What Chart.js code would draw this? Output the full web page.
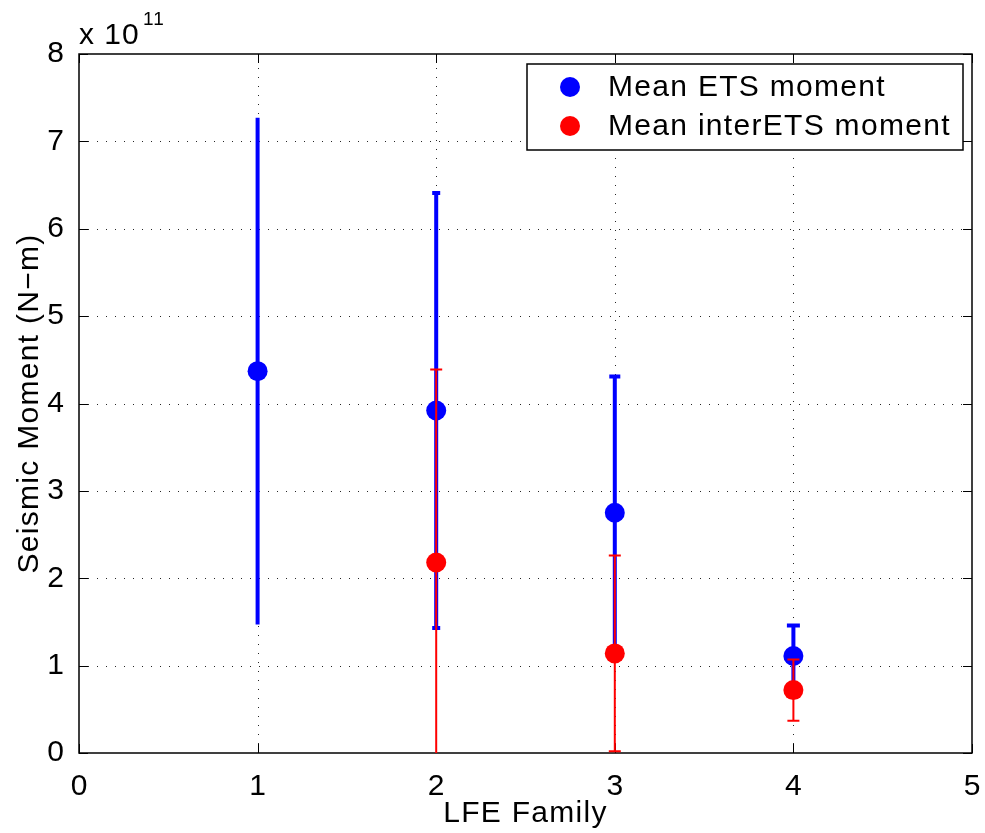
<!DOCTYPE html>
<html>
<head>
<meta charset="utf-8">
<script src="https://cdn.jsdelivr.net/npm/chart.js@4/dist/chart.umd.min.js"></script>
<style>
  html, body { margin: 0; padding: 0; background: #fff; }
  #wrap { width: 985px; height: 833px; position: relative; }
</style>
</head>
<body>
<div id="wrap"><canvas id="seismicChart"></canvas></div>
<script>
// datos (momento en unidades de 1e11 N-m)
const families = [1, 2, 3, 4];
const etsMean = [4.37, 3.92, 2.75, 1.11];
const etsErr = [2.90, 2.49, 1.56, 0.35];

const interFamilies = [2, 3, 4];
const interMean = [2.18, 1.14, 0.72];
const interErr = [2.21, 1.12, 0.35];

const xTicks = [0, 1, 2, 3, 4, 5];
const yTicks = [0, 1, 2, 3, 4, 5, 6, 7, 8];

const FONT = '"Liberation Sans", Arial, Helvetica, sans-serif';

// errorbars estilo MATLAB, se pintan justo antes de cada dataset
const errorBarPlugin = {
  id: 'errorBars',
  beforeDatasetDraw(chart, args) {
    const ds = chart.data.datasets[args.index];
    if (!ds.errors) return;
    const { ctx, chartArea, scales: { x, y } } = chart;
    ctx.save();
    ctx.beginPath();
    ctx.rect(chartArea.left, chartArea.top, chartArea.right - chartArea.left, chartArea.bottom - chartArea.top);
    ctx.clip();
    ctx.strokeStyle = ds.backgroundColor;
    ctx.lineWidth = ds.errWidth;
    ds.data.forEach((p, i) => {
      const px = x.getPixelForValue(p.x);
      const top = y.getPixelForValue(p.y + ds.errors[i]);
      const bot = y.getPixelForValue(p.y - ds.errors[i]);
      const cw = ds.capWidths[i] / 2;
      ctx.beginPath();
      ctx.moveTo(px, top); ctx.lineTo(px, bot);
      if (cw > 0) {
        ctx.moveTo(px - cw, top); ctx.lineTo(px + cw, top);
        ctx.moveTo(px - cw, bot); ctx.lineTo(px + cw, bot);
      }
      ctx.stroke();
    });
    ctx.restore();
  }
};

// rejilla punteada, marco, ticks hacia dentro, textos y leyenda
const axesPlugin = {
  id: 'matlabAxes',
  beforeDatasetsDraw(chart) {
    const { ctx, chartArea: a, scales: { x, y } } = chart;
    ctx.save();
    ctx.strokeStyle = 'rgba(0,0,0,0.85)';
    ctx.lineWidth = 1;
    ctx.setLineDash([1, 8]);
    xTicks.slice(1, -1).forEach(v => {
      const px = Math.round(x.getPixelForValue(v)) + 0.5;
      ctx.beginPath(); ctx.moveTo(px, a.bottom); ctx.lineTo(px, a.top); ctx.stroke();
    });
    yTicks.slice(1, -1).forEach(v => {
      const py = Math.round(y.getPixelForValue(v)) + 0.5;
      ctx.beginPath(); ctx.moveTo(a.left, py); ctx.lineTo(a.right, py); ctx.stroke();
    });
    ctx.setLineDash([]);
    ctx.strokeStyle = '#000';
    xTicks.forEach(v => {
      const px = Math.round(x.getPixelForValue(v)) + 0.5;
      ctx.beginPath();
      ctx.moveTo(px, a.bottom); ctx.lineTo(px, a.bottom - 9);
      ctx.moveTo(px, a.top); ctx.lineTo(px, a.top + 9);
      ctx.stroke();
    });
    yTicks.forEach(v => {
      const py = Math.round(y.getPixelForValue(v)) + 0.5;
      ctx.beginPath();
      ctx.moveTo(a.left, py); ctx.lineTo(a.left + 9, py);
      ctx.moveTo(a.right, py); ctx.lineTo(a.right - 9, py);
      ctx.stroke();
    });
    ctx.lineWidth = 1.5;
    ctx.strokeRect(a.left, a.top, a.right - a.left, a.bottom - a.top);
    ctx.restore();
  },
  afterDraw(chart) {
    const { ctx, chartArea: a } = chart;
    ctx.save();
    ctx.fillStyle = '#000';
    ctx.font = '30px ' + FONT;
    ctx.letterSpacing = '1.3px';

    // titulo eje x
    ctx.textAlign = 'center';
    ctx.textBaseline = 'alphabetic';
    ctx.fillText('LFE Family', (a.left + a.right) / 2, 822);

    // titulo eje y
    ctx.save();
    ctx.translate(38, (a.top + a.bottom) / 2);
    ctx.rotate(-Math.PI / 2);
    ctx.fillText('Seismic Moment (N\u2212m)', 0, 0);
    ctx.restore();

    // exponente
    ctx.letterSpacing = '1px';
    ctx.textAlign = 'left';
    ctx.fillText('x 10', a.left, 44);
    ctx.font = '19px ' + FONT;
    ctx.fillText('11', a.left + 64, 25);

    // leyenda
    const lx = a.right - 445, ly = a.top + 10, lw = 436, lh = 86;
    ctx.fillStyle = '#fff';
    ctx.fillRect(lx, ly, lw, lh);
    ctx.strokeStyle = '#000';
    ctx.lineWidth = 1.5;
    ctx.strokeRect(lx, ly, lw, lh);
    ctx.font = '30px ' + FONT;
    ctx.letterSpacing = '1.3px';
    ctx.textBaseline = 'middle';
    chart.data.datasets.forEach((ds, i) => {
      const cy = ly + 23 + i * 39;
      ctx.fillStyle = ds.backgroundColor;
      ctx.beginPath();
      ctx.arc(lx + 43, cy, 10, 0, Math.PI * 2);
      ctx.fill();
      ctx.fillStyle = '#000';
      ctx.fillText(ds.label, lx + 81, cy + 1);
    });
    ctx.restore();
  }
};

new Chart(document.getElementById('seismicChart'), {
  type: 'scatter',
  data: {
    datasets: [{
      label: 'Mean ETS moment',
      data: families.map((f, i) => ({ x: f, y: etsMean[i] })),
      errors: etsErr,
      errWidth: 4,
      capWidths: [0, 8, 11, 13],
      backgroundColor: '#0000FF',
      borderColor: '#0000FF',
      pointRadius: 10,
      pointHoverRadius: 10,
      borderWidth: 0,
      order: 1
    }, {
      label: 'Mean interETS moment',
      data: interFamilies.map((f, i) => ({ x: f, y: interMean[i] })),
      errors: interErr,
      errWidth: 2,
      capWidths: [12, 12, 12],
      backgroundColor: '#FF0000',
      borderColor: '#FF0000',
      pointRadius: 10,
      pointHoverRadius: 10,
      borderWidth: 0,
      order: 0
    }]
  },
  options: {
    responsive: true,
    maintainAspectRatio: false,
    animation: false,
    layout: { padding: { left: 0, top: 54, right: 13, bottom: 0 } },
    scales: {
      x: {
        type: 'linear',
        min: 0, max: 5,
        afterBuildTicks: s => { s.ticks = xTicks.map(v => ({ value: v })); },
        afterFit: s => { s.height = 80; s.paddingLeft = 0; s.paddingRight = 0; },
        grid: { display: false },
        border: { display: false },
        ticks: { color: '#000', font: { family: FONT, size: 30 }, padding: 8 }
      },
      y: {
        type: 'linear',
        min: 0, max: 8,
        afterBuildTicks: s => { s.ticks = yTicks.map(v => ({ value: v })); },
        afterFit: s => { s.width = 79; s.paddingTop = 0; s.paddingBottom = 0; },
        grid: { display: false },
        border: { display: false },
        ticks: { color: '#000', font: { family: FONT, size: 30 }, padding: 7 }
      }
    },
    plugins: {
      legend: { display: false },
      tooltip: { enabled: false }
    }
  },
  plugins: [errorBarPlugin, axesPlugin]
});
</script>
</body>
</html>
